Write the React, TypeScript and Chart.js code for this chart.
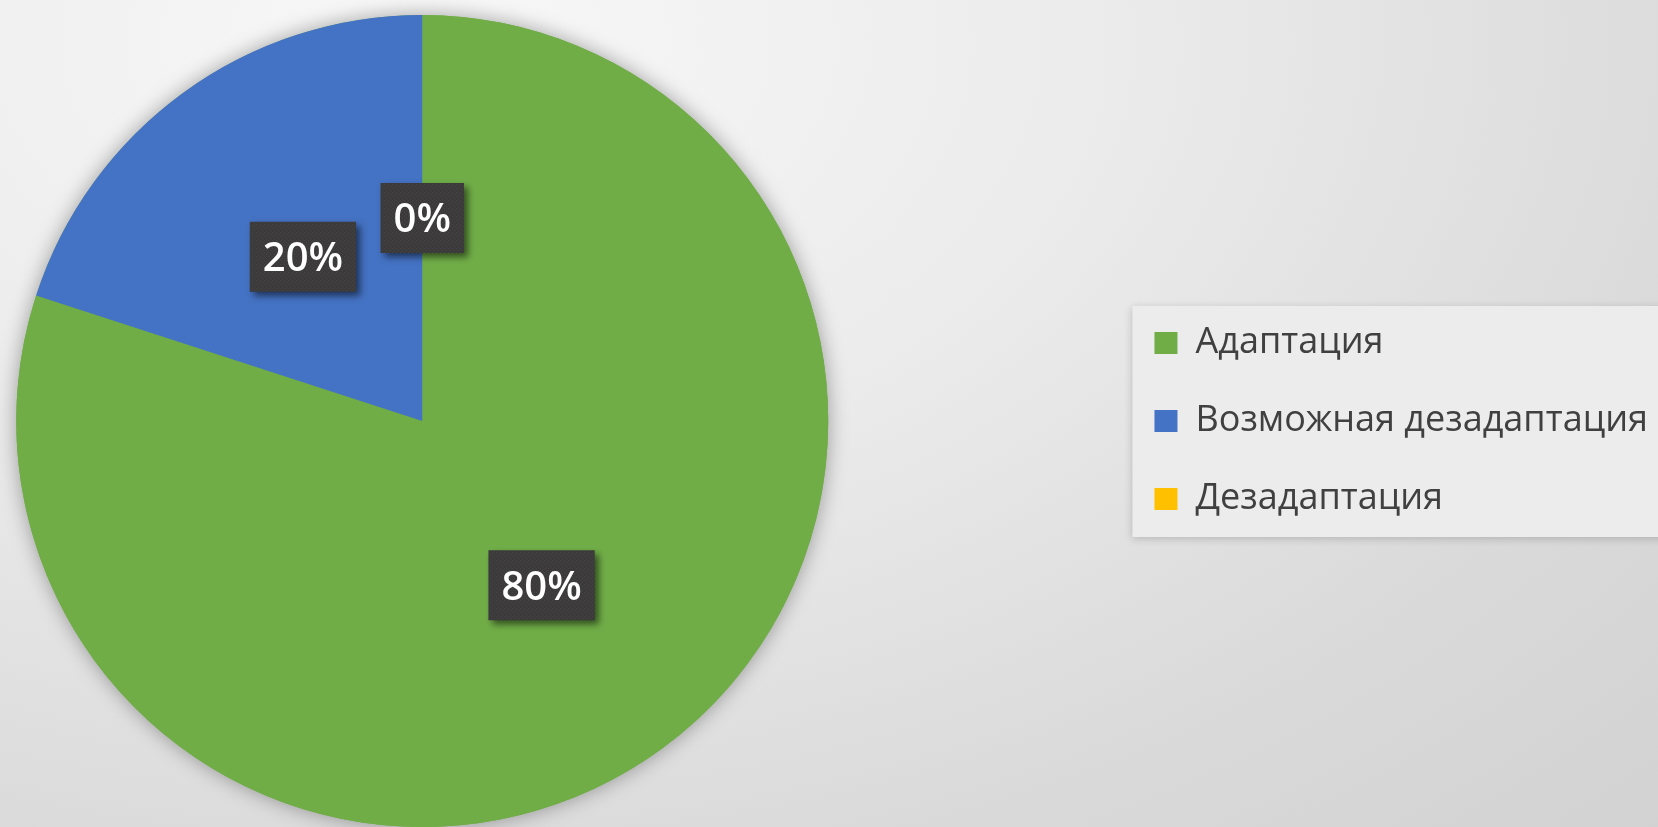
import React, { useEffect, useRef } from "react";
import { Chart, registerables } from "chart.js";

Chart.register(...registerables);

const categories = ["Адаптация", "Возможная дезадаптация", "Дезадаптация"];
const values = [80, 20, 0];
const colors = ["#70AD47", "#4472C4", "#FFC000"];

const SHIFT = 268;

const pieShadow = {
  id: "pieShadow",
  beforeDatasetsDraw(chart: any) {
    const arc = chart.getDatasetMeta(0).data[0];
    if (!arc) return;
    const { x, y, outerRadius } = arc.getProps(["x", "y", "outerRadius"], true);
    const ctx = chart.ctx;
    ctx.save();
    ctx.shadowColor = "rgba(0,0,0,0.35)";
    ctx.shadowBlur = 20;
    ctx.beginPath();
    ctx.arc(x, y, outerRadius, 0, Math.PI * 2);
    ctx.fillStyle = colors[0];
    ctx.fill();
    ctx.restore();
  },
};

const legendBox = {
  id: "legendBox",
  beforeDraw(chart: any) {
    const lg = chart.legend;
    if (!lg || !lg.legendHitBoxes || !lg.legendHitBoxes.length) return;
    const hb = lg.legendHitBoxes;
    const first = hb[0];
    const last = hb[hb.length - 1];
    const left = first.left - 22;
    const top = first.top - 19;
    const bottom = last.top + last.height + 20;
    const ctx = chart.ctx;
    ctx.save();
    ctx.shadowColor = "rgba(0,0,0,0.18)";
    ctx.shadowBlur = 8;
    ctx.shadowOffsetX = 0;
    ctx.shadowOffsetY = 2;
    ctx.fillStyle = "#ececec";
    ctx.fillRect(left, top, chart.width - left + 20, bottom - top);
    ctx.restore();
  },
};

function makePattern(ctx: CanvasRenderingContext2D) {
  const c = document.createElement("canvas");
  c.width = 4;
  c.height = 4;
  const p = c.getContext("2d")!;
  p.fillStyle = "#3b3b3b";
  p.fillRect(0, 0, 4, 4);
  p.fillStyle = "#4a4246";
  p.fillRect(0, 0, 1, 1);
  p.fillRect(2, 2, 1, 1);
  return ctx.createPattern(c, "repeat") || "#3d3d3d";
}

const dataLabels = {
  id: "dataLabels",
  afterDatasetsDraw(chart: any) {
    const ctx = chart.ctx;
    const meta = chart.getDatasetMeta(0);
    const total = values.reduce((a, b) => a + b, 0);
    const pattern = makePattern(ctx);
    ctx.save();
    ctx.font = "600 40px 'Open Sans'";
    meta.data.forEach((arc: any, i: number) => {
      const text = Math.round((values[i] / total) * 100) + "%";
      const p = arc.getCenterPoint();
      const tw = ctx.measureText(text).width;
      const w = tw + 26;
      const h = 70;
      ctx.save();
      ctx.shadowColor = "rgba(0,0,0,0.55)";
      ctx.shadowBlur = 7;
      ctx.shadowOffsetX = 4;
      ctx.shadowOffsetY = 4;
      ctx.fillStyle = pattern;
      ctx.fillRect(p.x - w / 2, p.y - h / 2, w, h);
      ctx.restore();
      ctx.fillStyle = "#ffffff";
      ctx.textAlign = "center";
      ctx.textBaseline = "middle";
      ctx.fillText(text, p.x, p.y + 3);
    });
    ctx.restore();
  },
};

export default function App() {
  const ref = useRef<HTMLCanvasElement | null>(null);
  useEffect(() => {
    if (!ref.current) return;
    const chart = new Chart(ref.current, {
      type: "pie",
      data: {
        labels: categories,
        datasets: [
          {
            data: values,
            backgroundColor: colors,
            borderWidth: 0,
          },
        ],
      },
      options: {
        responsive: false,
        animation: false,
        devicePixelRatio: 1,
        rotation: 0,
        layout: { padding: { left: 0, right: 0, top: 15, bottom: 0 } },
        plugins: {
          tooltip: { enabled: false },
          legend: {
            position: "right",
            align: "center",
            labels: {
              boxWidth: 23,
              boxHeight: 22,
              padding: 42,
              color: "#404040",
              font: { family: "'Open Sans'", size: 36 },
            },
          },
        },
      },
      plugins: [legendBox, pieShadow, dataLabels],
    });
    return () => chart.destroy();
  }, []);
  return (
    <div
      style={{
        position: "fixed",
        left: 0,
        top: 0,
        width: 1658,
        height: 827,
        overflow: "hidden",
        background:
          "radial-gradient(ellipse at 25% 5%, #f8f8f8 0%, #ebebeb 40%, #dadada 75%, #d2d2d2 100%)",
      }}
    >
      <canvas
        ref={ref}
        width={1658 + SHIFT}
        height={827}
        style={{ display: "block", marginLeft: -SHIFT }}
      />
    </div>
  );
}
